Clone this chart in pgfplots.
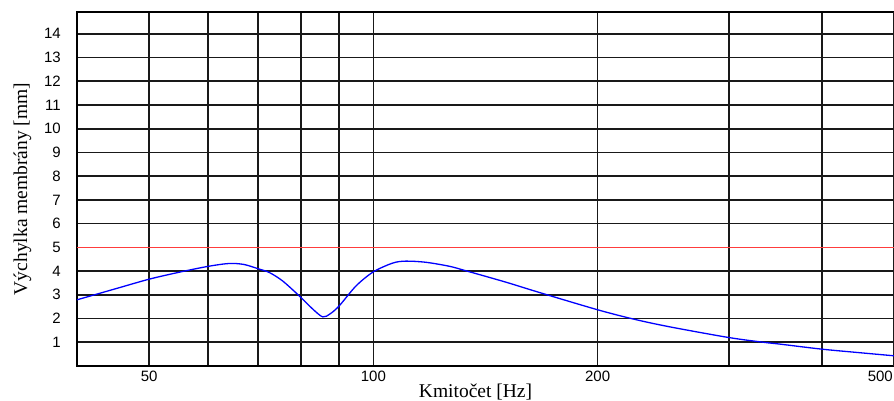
\documentclass[border=0pt]{standalone}
\usepackage{fontspec}
\setmainfont{Liberation Serif}
\newfontfamily\ticksf{Liberation Sans}
\usepackage{pgfplots}
\pgfplotsset{compat=1.18}
\definecolor{redline}{RGB}{255,60,60}
\begin{document}
\begin{tikzpicture}[x=1bp,y=1bp]
\begin{axis}[
  at={(77bp,34bp)}, anchor=south west,
  scale only axis, width=817bp, height=354bp,
  xmode=log, log basis x=10,
  xmin=40, xmax=500, ymin=0, ymax=14.92,
  xtick={50,100,200}, xticklabels={50,100,200},
  extra x ticks={500}, extra x tick labels={500},
  extra x tick style={xticklabel style={anchor=north east, xshift=-1bp}},
  minor xtick={60,70,80,90,300,400},
  ytick={1,...,14},
  grid=both,
  major grid style={black!90, line width=1.7bp},
  minor grid style={black!90, line width=1.7bp},
  axis line style={black, line width=1.7bp},
  major tick length=0pt, minor tick length=0pt,
  tick style={draw=none},
  /pgf/number format/assume math mode=true,
  ticklabel style={font=\ticksf\fontsize{15bp}{17bp}\selectfont, inner sep=0pt},
  xticklabel style={yshift=-5bp},
  yticklabel style={xshift=-16bp},
  xlabel={Kmitočet [Hz]},
  ylabel={Výchylka membrány [mm]},
  label style={font=\fontsize{19.5bp}{22bp}\selectfont},
  xlabel style={at={(axis description cs:0.4878,-0.0876)}, anchor=base},
  ylabel style={at={(axis description cs:-0.0612,0.5)}, anchor=base, rotate=0},
]
\addplot[redline, line width=1.5bp] coordinates {(40,5) (500,5)};
\addplot[blue, line width=1.3bp, smooth] coordinates {
(40,2.79) (45,3.25) (50,3.66) (55,3.96) (60,4.20) (64,4.32) (67,4.28)
(70,4.10) (72.5,3.94) (75.5,3.59) (79.5,2.96) (82.9,2.40) (85.5,2.07)
(87.5,2.20) (90,2.54) (94.8,3.38) (100,3.97) (106.2,4.34) (110.6,4.42)
(117.7,4.37) (126.6,4.20) (133.2,4.01) (150,3.55) (167,3.10) (200,2.37)
(224,1.97) (250,1.65) (300,1.20) (334,1.00) (352,0.92) (400,0.71)
(450,0.56) (500,0.43)
};
\end{axis}
\pgfresetboundingbox
\path[use as bounding box] (0,0) rectangle (894,400);
\end{tikzpicture}
\end{document}
